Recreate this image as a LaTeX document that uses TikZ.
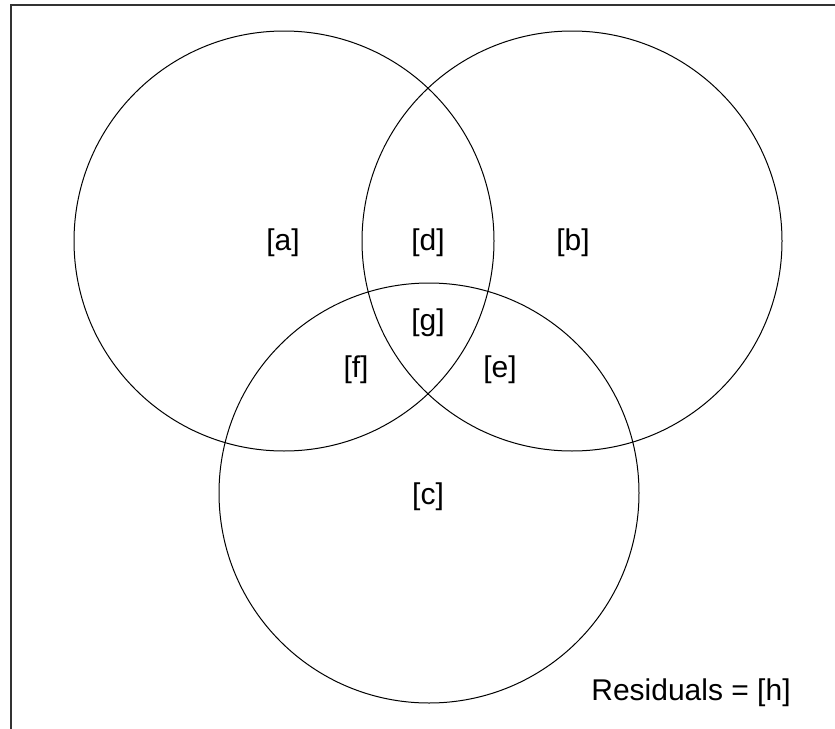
\documentclass[tikz,border=0pt]{standalone}
\usepackage{fontspec}
\setmainfont{Liberation Sans}
\begin{document}
\begin{tikzpicture}[x=1pt,y=-1pt,
  setcircle/.style={draw=black,line width=1pt},
  lbl/.style={font=\fontsize{30}{35}\selectfont,inner sep=0pt,anchor=center},
  frameline/.style={draw=black!80,line width=1.6pt}]
\useasboundingbox (0,0) rectangle (835,728);
% plot frame (right and bottom edges lie outside the visible area)
\draw[frameline] (11,740) -- (11,5) -- (850,5);
% the three sets
\draw[setcircle] (284,241) circle[radius=210];
\draw[setcircle] (572,241) circle[radius=210];
\draw[setcircle] (429,493) circle[radius=210];
% fraction labels
\node[lbl] (a) at (283,243) {[a]};
\node[lbl] (d) at (428,243) {[d]};
\node[lbl] (b) at (573,243) {[b]};
\node[lbl] (g) at (428,323) {[g]};
\node[lbl] (f) at (356,370) {[f]};
\node[lbl] (e) at (500,370) {[e]};
\node[lbl] (c) at (428,497) {[c]};
\node[lbl] (h) at (691,693) {Residuals = [h]};
\end{tikzpicture}
\end{document}
